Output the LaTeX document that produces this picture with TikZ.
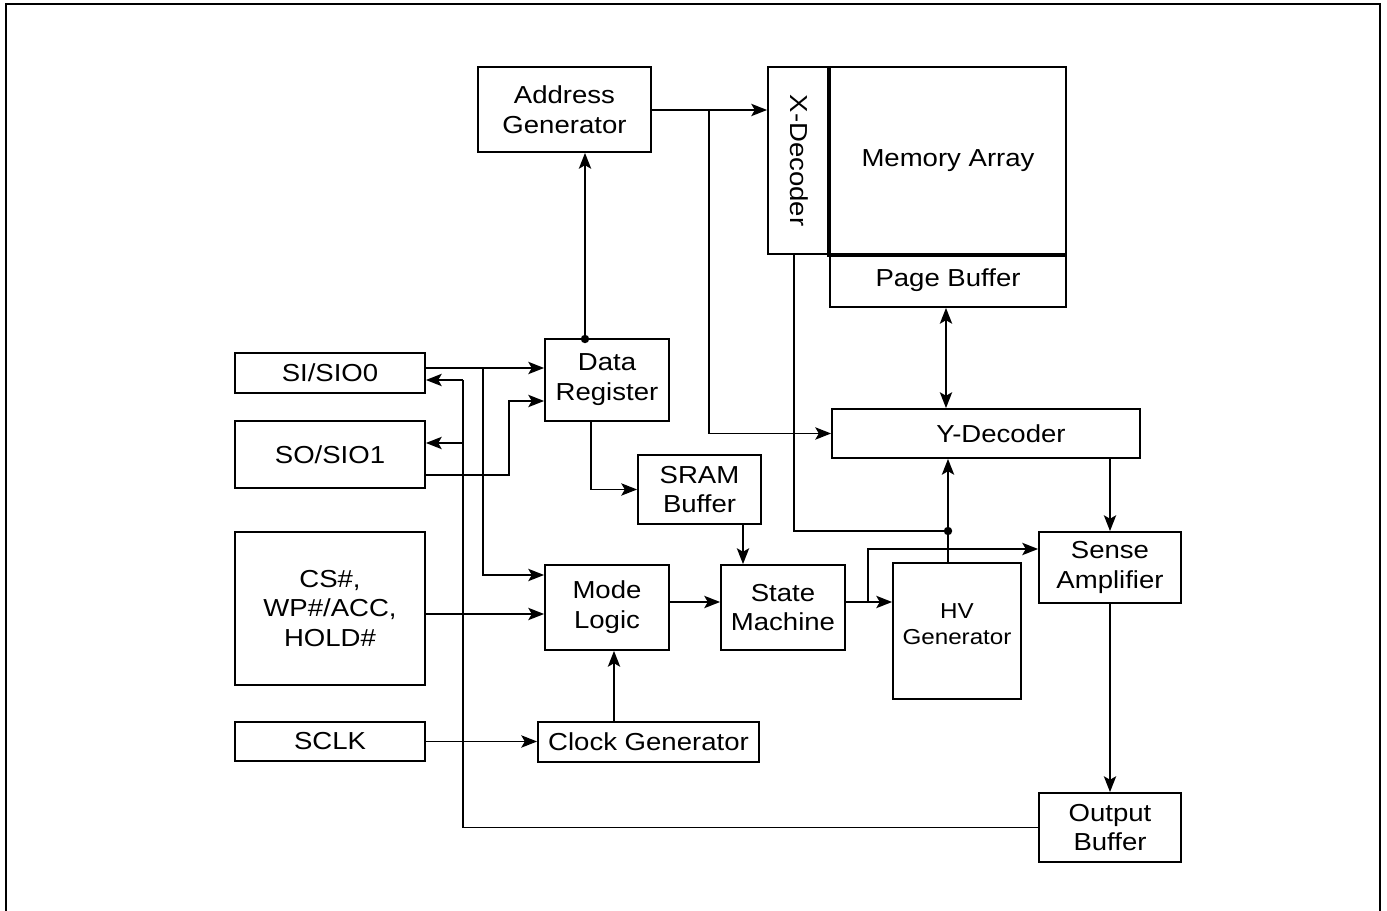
\documentclass[tikz,border=0pt]{standalone}
\usepackage{fontspec}
\setmainfont[FakeStretch=1.12]{Liberation Sans}
\usetikzlibrary{arrows.meta}
\begin{document}
\begin{tikzpicture}[x=0.02cm,y=-0.02cm,line width=1.05pt,
  sig/.style={-{Stealth[length=9pt,width=7pt,inset=2pt]}},
  bisig/.style={{Stealth[length=9pt,width=7pt,inset=2pt]}-{Stealth[length=9pt,width=7pt,inset=2pt]}},
  blk/.style={draw,inner sep=0pt,align=center,font=\fontsize{14}{17}\selectfont},
  txt/.style={inner sep=0pt,align=center,font=\fontsize{14}{17}\selectfont}]
% Schema bloc de la memoire flash serie
\useasboundingbox (0,0) rectangle (1387,911);
\draw (6,911) -- (6,4) -- (1380,4) -- (1380,911);
% blocs
\node[blk,minimum width=3.46cm,minimum height=1.70cm] (addr) at (564.5,109.5) {Address\\Generator};
\node[blk,minimum width=1.24cm,minimum height=3.74cm] (xdec) at (799,160.5) {};
\node[txt,rotate=-90] (xdectxt) at (xdec) {X-Decoder};
\node[blk,minimum width=4.72cm,minimum height=3.74cm] (mem) at (948,160.5) {Memory Array};
\node[blk,minimum width=4.72cm,minimum height=1.06cm] (page) at (948,280.5) {Page Buffer};
\draw[line width=2pt] (mem.north west) -- (mem.south west) -- (mem.south east);
\node[blk,minimum width=3.8cm,minimum height=0.8cm] (si) at (330,373) {SI/SIO0};
\node[blk,minimum width=3.8cm,minimum height=1.34cm] (so) at (330,454.5) {SO/SIO1};
\node[blk,minimum width=3.8cm,minimum height=3.06cm] (ctrl) at (330,608.5) {CS\#,\\WP\#/ACC,\\HOLD\#};
\node[blk,minimum width=3.8cm,minimum height=0.78cm] (sclk) at (330,741.5) {SCLK};
\node[blk,minimum width=2.48cm,minimum height=1.64cm] (dreg) at (607,380) {Data\\Register};
\node[blk,minimum width=2.46cm,minimum height=1.38cm] (sram) at (699.5,489.5) {SRAM\\Buffer};
\node[blk,minimum width=2.48cm,minimum height=1.70cm] (mode) at (607,607.5) {Mode\\Logic};
\node[blk,minimum width=2.48cm,minimum height=1.70cm] (state) at (783,607.5) {State\\Machine};
\node[blk,minimum width=4.42cm,minimum height=0.8cm] (clk) at (648.5,742) {Clock Generator};
\node[blk,minimum width=6.16cm,minimum height=0.98cm] (ydec) at (986,433.5) {\hspace{0.6cm}Y-Decoder};
\node[blk,minimum width=2.56cm,minimum height=2.72cm] (hv) at (957,631) {};
\node[txt,font=\fontsize{12.3}{15}\selectfont] (hvtxt) at (957,624) {HV\\Generator};
\node[blk,minimum width=2.84cm,minimum height=1.42cm] (sense) at (1110,567.5) {Sense\\Amplifier};
\node[blk,minimum width=2.84cm,minimum height=1.38cm] (out) at (1110,827.5) {Output\\Buffer};
% points de jonction
\coordinate (dtap) at (585,339);
\coordinate (abr) at (709,110);
\coordinate (sibr) at (483,368);
\coordinate (ret) at (463,380);
\coordinate (retso) at (463,443);
\coordinate (sobr) at (509,401);
\coordinate (smbr) at (868,602);
\coordinate (xdot) at (948,531);
% liaisons
\draw[sig] (addr.east |- abr) -- (xdec.west |- abr);
\draw[sig] (abr) |- (ydec.west);
\draw[sig] (dtap) -- (dtap |- addr.south);
\fill (dtap) circle (2.4pt);
\draw[sig] (si.east |- sibr) -- (dreg.west |- sibr);
\draw[sig] (sibr) |- (mode.west |- 0,575);
\draw[sig] (ret) -- (si.east |- ret);
\draw[sig] (retso) -- (so.east |- retso);
\draw (ret) |- (out.west);
\draw[sig] (so.east |- 0,475) -| (sobr) -- (dreg.west |- sobr);
\draw[sig] (dreg.south -| 591,0) |- (sram.west);
\draw[sig] (sram.south -| 743,0) -- (state.north -| 743,0);
\draw[sig] (ctrl.east |- 0,614) -- (mode.west |- 0,614);
\draw[sig] (sclk.east) -- (clk.west |- sclk.east);
\draw[sig] (clk.north -| 614,0) -- (mode.south -| 614,0);
\draw[sig] (mode.east |- smbr) -- (state.west |- smbr);
\draw[sig] (state.east |- smbr) -- (hv.west |- smbr);
\draw[sig] (smbr) |- (sense.west |- 0,549);
\draw (xdec.south -| 794,0) |- (xdot);
\fill (xdot) circle (2.4pt);
\draw[sig] (hv.north -| xdot) -- (ydec.south -| xdot);
\draw[bisig] (page.south -| 946,0) -- (ydec.north -| 946,0);
\draw[sig] (ydec.south -| sense) -- (sense.north);
\draw[sig] (sense.south) -- (out.north);
\end{tikzpicture}
\end{document}
